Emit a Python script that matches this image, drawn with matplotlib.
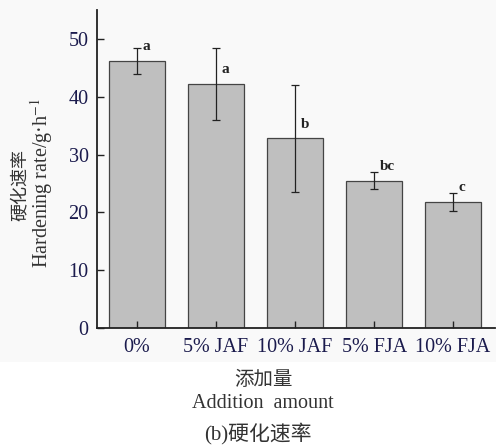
import matplotlib.pyplot as plt
from matplotlib.patches import Rectangle

# Hardening rate for each addition level
groups = ['0%', '5% JAF', '10% JAF', '5% FJA', '10% FJA']
rates = [46.2, 42.2, 32.8, 25.5, 21.8]
errors = [2.3, 6.3, 9.3, 1.5, 1.6]
letters = ['a', 'a', 'b', 'bc', 'c']

plt.rcParams['font.family'] = ['Liberation Serif', 'Noto Sans CJK SC']
plt.rcParams['mathtext.fontset'] = 'stix'
navy = '#1b1b4d'

fig = plt.figure(figsize=(4.96, 4.45), dpi=100)
fig.patch.set_facecolor('white')
fig.patches.append(Rectangle((0, 1 - 362 / 445), 1, 362 / 445, transform=fig.transFigure,
                             facecolor='#f9f9f9', edgecolor='none', zorder=-10))

ax = fig.add_axes([97 / 496, 1 - 328 / 445, 398 / 496, 318 / 445])
ax.set_facecolor('none')

x = range(len(groups))
ax.bar(x, rates, width=0.71, color='#bfbfbf', edgecolor='#444444', linewidth=0.9)
ax.errorbar(x, rates, yerr=errors, fmt='none', ecolor='#222222', elinewidth=0.9,
            capsize=3, capthick=0.9)

# significance letters just above each bar
for i, (r, t) in enumerate(zip(rates, letters)):
    ax.text(i + 0.07, r + 1.3, t, fontsize=11, fontweight='bold', ha='left', va='bottom',
            color='#222222')

ax.set_xlim(-0.506, 4.53)
ax.set_ylim(0, 55)
ax.set_yticks([0, 10, 20, 30, 40, 50])
ax.set_xticks(list(x))
ax.set_xticklabels(groups)
ax.tick_params(direction='in', length=5, width=1, colors='#222222', labelcolor=navy,
               labelsize=14.5)
ax.tick_params(axis='x', pad=7)
ax.tick_params(axis='y', pad=6)
for s in ['top', 'right']:
    ax.spines[s].set_visible(False)
for s in ['left', 'bottom']:
    ax.spines[s].set_linewidth(1.3)
    ax.spines[s].set_color('#222222')

# axis titles
fig.text(20 / 496, 1 - 185 / 445, '硬化速率', rotation=90, ha='center', va='center',
         fontsize=13, color='#333333')
fig.text(42 / 496, 1 - 183 / 445, 'Hardening rate/g·h$^{-1}$', rotation=90, ha='center',
         va='center', fontsize=14.5, color='#333333')
fig.text(263 / 496, 1 - 380 / 445, '添加量', ha='center', va='center', fontsize=14,
         color='#333333')
fig.text(263 / 496, 1 - 404 / 445, 'Addition  amount', ha='center', va='center', fontsize=14.5,
         color='#333333')
fig.text(258 / 496, 1 - 433 / 445, '(b)硬化速率', ha='center', va='center', fontsize=15,
         color='#333333')

fig.savefig('out.png', dpi=100)
